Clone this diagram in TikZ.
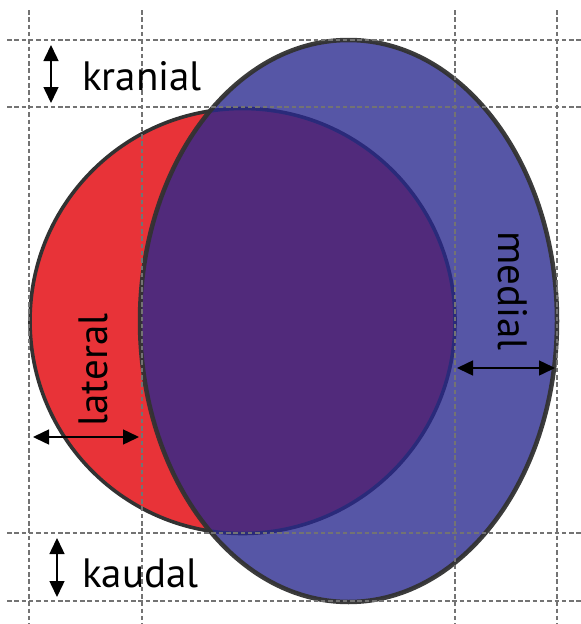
\documentclass[tikz,border=0pt]{standalone}
\usepackage{fontspec}
\setmainfont{PT Sans}
\usetikzlibrary{arrows.meta}
\definecolor{redfill}{RGB}{232,51,56}
\definecolor{bluefill}{RGB}{41,40,142}
\definecolor{edgegray}{RGB}{50,50,50}
\definecolor{gridgray}{RGB}{115,115,115}
\tikzset{
  gridline/.style={gridgray, line width=2.2pt, dash pattern=on 4.5pt off 2.8pt},
  dimarrow/.style={line width=1.5pt, {Triangle[length=16pt,width=15pt]}-{Triangle[length=16pt,width=15pt]}},
  lbl/.style={inner sep=0pt, font=\fontsize{41}{45}\selectfont}
}
\begin{document}
\begin{tikzpicture}[x=1pt,y=-1pt]
\useasboundingbox (0,0) rectangle (581,624);
% red circle
\draw[fill=redfill, draw=edgegray, line width=3.6pt] (242.5,321) circle [radius=212.5];
% blue ellipse
\draw[fill=bluefill, fill opacity=0.79, draw=edgegray, draw opacity=0.95, line width=4.5pt] (348.5,321) ellipse [x radius=208.5, y radius=281];
% grid
\foreach \gx/\nm in {29/a,142/b,455/c,557/d} {
  \coordinate (v\nm1) at (\gx,10);
  \coordinate (v\nm2) at (\gx,624);
  \draw[gridline] (v\nm1) -- (v\nm2);
}
\foreach \gy/\nm in {40/a,107/b,533/c,601/d} {
  \coordinate (h\nm1) at (7,\gy);
  \coordinate (h\nm2) at (581,\gy);
  \draw[gridline] (h\nm1) -- (h\nm2);
}
% arrows
\coordinate (kr1) at (51,45);
\coordinate (kr2) at (51,103);
\coordinate (ka1) at (57,538);
\coordinate (ka2) at (57,597);
\coordinate (la1) at (33,437);
\coordinate (la2) at (139,437);
\coordinate (me1) at (457,368);
\coordinate (me2) at (555,368);
\draw[dimarrow] (kr1) -- (kr2);
\draw[dimarrow] (ka1) -- (ka2);
\draw[dimarrow] (la1) -- (la2);
\draw[dimarrow] (me1) -- (me2);
% labels
\node[lbl, anchor=base west] (kranial) at (82,90) {kranial};
\node[lbl, anchor=base west] (kaudal) at (82,587) {kaudal};
\node[lbl, anchor=base, rotate=90] (lateral) at (107,370) {lateral};
\node[lbl, anchor=base, rotate=-90] (medial) at (498,291) {medial};
\end{tikzpicture}
\end{document}
